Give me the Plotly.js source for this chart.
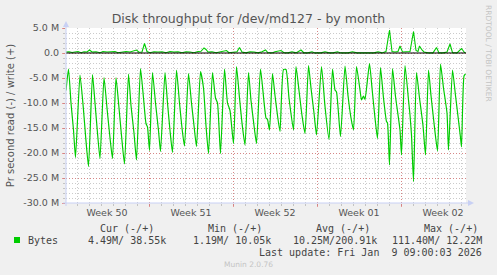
<!DOCTYPE html>
<html><head><meta charset="utf-8">
<script src="https://cdn.plot.ly/plotly-3.0.1.min.js"></script>
<style>html,body{margin:0;padding:0;background:#F0F0F0;}#chart{width:497px;height:275px;}</style>
</head><body><div id="chart"></div>
<script>
// hours since Mon 8 Dec 2025 00:00
const readHours = [2,
 7,12,17,21, 30,37,41,47, 55,60,65,70, 78,84,89,95, 102,108,113,119, 127,132,138,143,
 151,157,162,165,169, 175,181,187,191, 200,205,210,215, 223,229,234,239, 247,253,258,263,
 271,277,282,287, 295,301,305,311, 319,325,330,337, 343,349,354,360, 367,372,378,383,
 391,402,405,409, 415,420,425,430, 437,442,448,457, 462,468,474,480, 487,492,498,503,
 513,520,528, 535,540,543,551, 560,566,572,577, 583,590,593,597,600,
 609,614,620,625, 631,637,643,645,649, 655,661,670,673, 680,687,690,693,697,
 703,709,716,721, 727,732,738,745, 751,757,764,767, 775,781,787,791,793, 798,801];
// read throughput in MB/s (drawn below zero)
const readValues = [-7.5,
 -3.2,-10,-15.4,-20.9, -4.4,-11.4,-16.4,-22.7, -4.3,-10,-16,-21.1, -4.9,-11,-16,-21.1,
 -4.9,-11,-16.5,-22.2, -4.2,-10.5,-16,-21.4,
 -3.1,-9,-14.1,-14.8,-19.5, -3.9,-10,-15.5,-19.7, -3.9,-10,-15.5,-19.9, -3.4,-10,-15,-18.6,
 -4.1,-10,-14.5,-18.7,
 -3.7,-7,-14.5,-20.1, -3.9,-9,-10,-20.1, -3.2,-10,-11.5,-18.1, -2.7,-9,-14,-18.4,
 -3.9,-9.5,-14.5,-18.1,
 -3.2,-13,-13.3,-15.4, -4.1,-8.5,-12.5,-15.7, -3.3,-3.3,-9,-15.4, -2.7,-7.5,-12.5,-16.1,
 -2.5,-7,-12,-16.4,
 -2.7,-10.7,-17.3, -3.2,-7.4,-7.8,-16.7, -2.6,-8.5,-13,-15.4, -2.7,-7.4,-9.4,-8.6,-9.3,
 -2.1,-7,-13,-17.1, -2.9,-9,-13.7,-14,-22.4, -3.1,-8.7,-15.4,-20.4, -2.5,-9.4,-12.4,-16.4,-25.7,
 -3.9,-9,-14.5,-20.4, -3.4,-8.5,-14,-19.6, -2.2,-7,-12,-19.4, -3.4,-8.5,-13.5,-16.9,-18.8,
 -4.6,-4.2];
const writeHours = [2,8,14,20,26,32,38,44,49,54,62,70,76,84,92,100,106,114,122,130,136,143,148,154,159,164,
 170,178,186,194,202,210,218,226,234,242,250,258,266,272,278,282,286,294,302,310,318,323,328,336,344,349,
 354,362,370,378,386,394,401,406,414,420,432,438,446,454,462,472,478,486,494,500,512,520,528,536,545,552,
 566,575,584,596,606,618,626,634,642,649,654,660,666,670,675,683,690,697,702,706,709,714,718,726,736,743,
 748,756,764,770,775,784,793,799,801];
// write throughput in MB/s
const writeValues = [0.2,0.25,0.1,0.2,0.3,0.05,0.25,0.2,0.6,0.2,0.25,0.05,0.3,0.2,0.25,0.3,0.05,0.25,0.3,0.2,0.35,0.6,0.15,0.2,1.9,0.3,
 0.05,0.25,0.2,0.25,0.05,0.3,0.2,0.25,0.05,0.25,0.2,0.05,0.3,0.35,1.0,0.7,0.2,0.25,0.05,0.2,0.3,0.5,0.05,0.2,0.25,1.1,
 0.2,0.02,0.25,0.2,0.02,0.25,0.6,0.05,0.02,0.25,0.5,0.05,0.02,0.25,0.02,0.6,0.02,0.02,0.25,0.02,0.02,0.25,0.02,0.02,0.25,0.02,
 0.02,0.25,0.02,0.02,0.02,0.02,0.25,0.02,0.3,4.6,0.3,0.2,0.3,1.4,0.2,0.3,0.3,4.3,0.5,0.3,1.4,0.6,0.2,0.02,0.02,1.1,
 0.02,0.02,0.2,1.8,0.05,0.02,0.9,0.1,0.1];

const weekLabels = ["Week 50","Week 51","Week 52","Week 01","Week 02"];
const weekLabelHours = [84,252,420,588,756];
const weekStartHours = [168,336,504,672];
const yTickVals = [5,0,-5,-10,-15,-20,-25,-30];
const yTickText = ["5.0 M","0.0","-5.0 M","-10.0 M","-15.0 M","-20.0 M","-25.0 M","-30.0 M"];
const seriesName = "Bytes";
const legendHeaders = ["Cur (-/+)","Min (-/+)","Avg (-/+)","Max (-/+)"];
const legendValues = ["4.49M/ 38.55k","1.19M/ 10.05k","10.25M/200.91k","111.40M/ 12.22M"];
const lastUpdate = "Last update: Fri Jan  9 09:00:03 2026";

// layout geometry (pixels)
const W = 497, H = 275, L = 66, R = 466, T = 28, B = 203;
const px = v => (v - L) / (R - L);
const py = v => (B - v) / (B - T);
const GREEN = '#00CC00', AXIS = '#C8D0F4', TXT = '#555555', LEG = '#444444';
const MONO = 'DejaVu Sans Mono', SANS = 'DejaVu Sans';

const headerLeft = [99, 206.7, 315, 422.7];
const valueRight = [166.7, 272.3, 377.7, 483.3];

const annotations = [];
legendHeaders.forEach((t, i) => annotations.push({xref:'paper', yref:'paper', x:px(headerLeft[i]-1), y:py(228),
  xanchor:'left', yanchor:'middle', text:t, showarrow:false, font:{family:MONO, size:10, color:LEG}}));
legendValues.forEach((t, i) => annotations.push({xref:'paper', yref:'paper', x:px(valueRight[i]+1), y:py(240),
  xanchor:'right', yanchor:'middle', text:t, showarrow:false, font:{family:MONO, size:10, color:LEG}}));
annotations.push({xref:'paper', yref:'paper', x:px(26), y:py(240), xanchor:'left', yanchor:'middle',
  text:seriesName, showarrow:false, font:{family:MONO, size:10, color:LEG}});
annotations.push({xref:'paper', yref:'paper', x:px(484), y:py(252), xanchor:'right', yanchor:'middle',
  text:lastUpdate.replace(/  /g,' &nbsp;'), showarrow:false, font:{family:MONO, size:10, color:LEG}});
annotations.push({xref:'paper', yref:'paper', x:px(248), y:py(264), xanchor:'center', yanchor:'middle',
  text:'Munin 2.0.76', showarrow:false, font:{family:SANS, size:7.5, color:'#C4C4C4'}});
annotations.push({xref:'paper', yref:'paper', x:px(489), y:py(53), xanchor:'center', yanchor:'middle',
  text:'RRDTOOL / TOBI OETIKER', textangle:90, showarrow:false, font:{family:SANS, size:7.5, color:'#C4C4C4'}});

const shapes = [
  // zero rule drawn over data
  {type:'line', xref:'paper', yref:'y', x0:0, x1:1, y0:0, y1:0, layer:'above', line:{color:'#000000', width:1}},
  // axis lines with arrows
  {type:'line', xref:'paper', yref:'paper', x0:px(L), x1:px(L), y0:py(B+3), y1:py(24), line:{color:AXIS, width:1}},
  {type:'line', xref:'paper', yref:'paper', x0:px(L-3), x1:px(469), y0:py(B), y1:py(B), line:{color:AXIS, width:1}},
  {type:'path', xref:'paper', yref:'paper', fillcolor:AXIS, line:{width:0},
   path:`M ${px(L-3)} ${py(27)} L ${px(L+3)} ${py(27)} L ${px(L)} ${py(21)} Z`},
  {type:'path', xref:'paper', yref:'paper', fillcolor:AXIS, line:{width:0},
   path:`M ${px(468)} ${py(B-3)} L ${px(468)} ${py(B+3)} L ${px(474)} ${py(B)} Z`},
  // legend colour box
  {type:'rect', xref:'paper', yref:'paper', x0:px(14), x1:px(20), y0:py(243), y1:py(237), fillcolor:GREEN, line:{width:0}}
];

const traces = [
  {x:readHours, y:readValues, type:'scatter', mode:'lines', name:'read',
   line:{color:GREEN, width:1.2, shape:'spline', smoothing:0.5}, hoverinfo:'skip'},
  {x:writeHours, y:writeValues, type:'scatter', mode:'lines', name:'write', line:{color:GREEN, width:1.1}, hoverinfo:'skip'}
];

const MGRID = 'rgba(224,80,80,0.55)', GRID = 'rgba(140,140,140,0.45)';
const layout = {
  width:W, height:H, autosize:false,
  paper_bgcolor:'#F0F0F0', plot_bgcolor:'#FFFFFF',
  margin:{l:L, r:W-R, t:T, b:H-B, pad:0},
  showlegend:false, hovermode:false,
  title:{text:'Disk throughput for /dev/md127 - by month', x:0.5, xanchor:'center', xref:'container',
    y:1-19/H, yanchor:'middle', yref:'container', font:{family:SANS, size:12.5, color:TXT}},
  xaxis:{range:[2,802], tickmode:'array', tickvals:weekStartHours, showticklabels:false,
    showgrid:true, gridcolor:MGRID, griddash:'1px,2px', gridwidth:1, zeroline:false, showline:false,
    ticks:'outside', ticklen:3, tickcolor:MGRID,
    minor:{tickmode:'linear', tick0:0, dtick:24, showgrid:true, gridcolor:GRID, griddash:'1px,2px', gridwidth:1,
      ticks:'outside', ticklen:2, tickcolor:GRID}, fixedrange:true},
  xaxis2:{overlaying:'x', anchor:'y', side:'bottom', range:[2,802], tickmode:'array', tickvals:weekLabelHours,
    ticktext:weekLabels, showgrid:false, zeroline:false, showline:false, ticks:'', ticklabelstandoff:2,
    tickfont:{family:SANS, size:9.5, color:TXT}, fixedrange:true},
  yaxis:{range:[-30,5], tickmode:'array', tickvals:yTickVals, ticktext:yTickText,
    showgrid:true, gridcolor:MGRID, griddash:'1px,2px', gridwidth:1, zeroline:false, showline:false,
    ticks:'outside', ticklen:3, tickcolor:MGRID, ticklabelstandoff:1,
    tickfont:{family:SANS, size:9.5, color:TXT},
    minor:{tickmode:'linear', tick0:0, dtick:1, showgrid:true, gridcolor:GRID, griddash:'1px,2px', gridwidth:1,
      ticks:'outside', ticklen:2, tickcolor:GRID},
    title:{text:'Pr second read (-) / write (+)', font:{family:SANS, size:10, color:TXT}, standoff:6},
    fixedrange:true},
  shapes:shapes,
  annotations:annotations
};
// an invisible trace to activate xaxis2 labels
traces.push({x:[weekLabelHours[0]], y:[null], xaxis:'x2', yaxis:'y', type:'scatter', mode:'lines', showlegend:false, hoverinfo:'skip'});

Plotly.newPlot('chart', traces, layout, {staticPlot:true, displayModeBar:false});
</script></body></html>
